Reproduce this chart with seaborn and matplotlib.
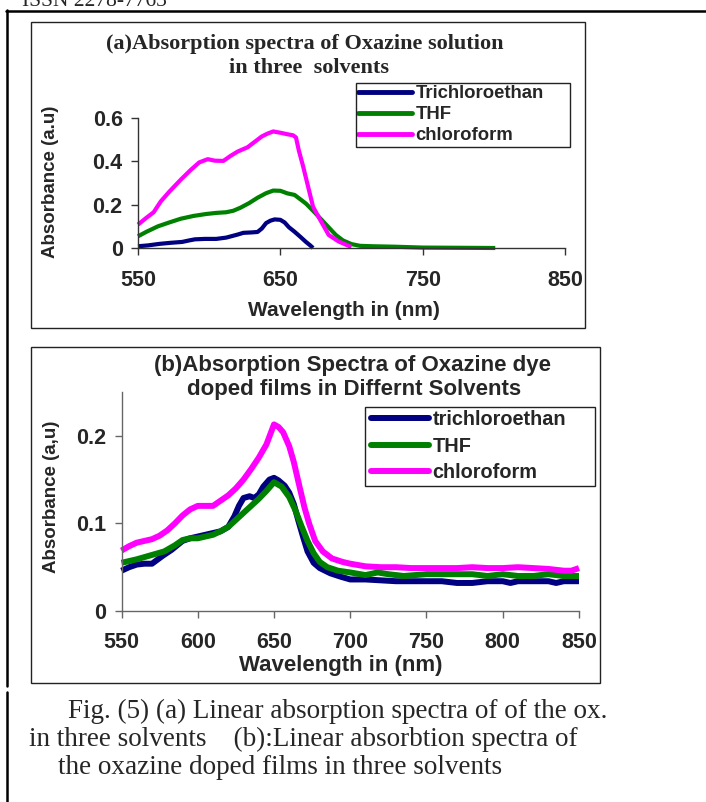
import numpy as np
import pandas as pd
import seaborn as sns
import matplotlib.pyplot as plt
from matplotlib.lines import Line2D
from matplotlib.patches import Rectangle

W, H = 706, 802

# ---- data, panel (a): oxazine solution ----
solvents_a = ['Trichloroethan', 'THF', 'chloroform']
a_tri_wl = [550, 557, 565, 573, 581, 586, 590, 597, 605, 612, 616, 620, 624, 630, 634, 637, 640, 643, 646, 650, 653, 656, 660, 664, 668, 671, 673]
a_tri = [0.008, 0.012, 0.019, 0.024, 0.028, 0.035, 0.040, 0.042, 0.042, 0.048, 0.055, 0.062, 0.070, 0.072, 0.074, 0.090, 0.115, 0.126, 0.132, 0.130, 0.118, 0.096, 0.075, 0.052, 0.028, 0.012, 0.0]
a_thf_wl = [550, 556, 564, 572, 580, 589, 598, 605, 612, 617, 622, 628, 634, 640, 645, 650, 655, 660, 664, 668, 674, 679, 684, 689, 694, 700, 706, 715, 730, 750, 775, 801]
a_thf = [0.054, 0.075, 0.100, 0.118, 0.135, 0.148, 0.157, 0.162, 0.165, 0.172, 0.186, 0.207, 0.232, 0.253, 0.265, 0.264, 0.252, 0.245, 0.225, 0.205, 0.165, 0.130, 0.095, 0.060, 0.035, 0.018, 0.010, 0.008, 0.006, 0.002, 0.001, 0.0]
a_chl_wl = [550, 556, 561, 566, 572, 580, 587, 593, 599, 604, 610, 615, 620, 627, 632, 637, 641, 645, 650, 655, 659, 661, 663, 666, 670, 673, 678, 684, 691, 698, 700]
a_chl = [0.108, 0.140, 0.165, 0.215, 0.260, 0.315, 0.360, 0.395, 0.410, 0.403, 0.402, 0.425, 0.445, 0.465, 0.490, 0.515, 0.528, 0.538, 0.532, 0.525, 0.520, 0.510, 0.450, 0.377, 0.270, 0.190, 0.130, 0.060, 0.030, 0.010, 0.005]
a_xticks = [550, 650, 750, 850]
a_yticks = [0, 0.2, 0.4, 0.6]
a_ylabels = ['0', '0.2', '0.4', '0.6']

# ---- data, panel (b): oxazine doped films ----
solvents_b = ['trichloroethan', 'THF', 'chloroform']
b_tri_wl = [550, 555, 560, 565, 570, 577, 583, 590, 595, 600, 605, 610, 615, 620, 624, 627, 630, 634, 637, 640, 643, 647, 650, 653, 657, 660, 663, 666, 669, 672, 676, 680, 687, 694, 700, 710, 720, 730, 740, 750, 760, 770, 780, 790, 800, 805, 810, 820, 830, 835, 840, 850]
b_tri = [0.046, 0.050, 0.053, 0.054, 0.054, 0.063, 0.070, 0.080, 0.083, 0.085, 0.087, 0.089, 0.091, 0.096, 0.108, 0.120, 0.129, 0.131, 0.129, 0.133, 0.142, 0.150, 0.152, 0.149, 0.143, 0.135, 0.122, 0.103, 0.085, 0.068, 0.055, 0.049, 0.043, 0.039, 0.036, 0.036, 0.035, 0.034, 0.034, 0.034, 0.034, 0.032, 0.032, 0.034, 0.034, 0.032, 0.034, 0.034, 0.034, 0.032, 0.034, 0.034]
b_thf_wl = [550, 560, 570, 578, 585, 590, 595, 600, 605, 610, 615, 620, 625, 630, 635, 640, 645, 650, 655, 660, 664, 668, 672, 676, 680, 685, 692, 700, 710, 718, 725, 735, 750, 765, 780, 790, 800, 810, 820, 830, 840, 850]
b_thf = [0.055, 0.059, 0.064, 0.068, 0.075, 0.081, 0.083, 0.083, 0.085, 0.087, 0.091, 0.096, 0.104, 0.112, 0.120, 0.128, 0.137, 0.147, 0.142, 0.130, 0.115, 0.097, 0.080, 0.066, 0.056, 0.050, 0.046, 0.044, 0.041, 0.044, 0.042, 0.040, 0.042, 0.042, 0.042, 0.040, 0.042, 0.040, 0.040, 0.042, 0.040, 0.040]
b_chl_wl = [550, 555, 560, 565, 570, 575, 580, 585, 590, 595, 600, 605, 610, 615, 620, 625, 630, 635, 640, 645, 650, 653, 656, 660, 663, 667, 670, 673, 677, 682, 688, 695, 700, 710, 720, 730, 740, 750, 760, 770, 780, 790, 800, 810, 820, 830, 840, 845, 850]
b_chl = [0.069, 0.074, 0.078, 0.080, 0.082, 0.086, 0.092, 0.100, 0.109, 0.116, 0.120, 0.120, 0.120, 0.126, 0.132, 0.140, 0.150, 0.162, 0.175, 0.190, 0.213, 0.210, 0.204, 0.188, 0.170, 0.140, 0.118, 0.100, 0.080, 0.068, 0.060, 0.056, 0.054, 0.051, 0.050, 0.050, 0.049, 0.049, 0.049, 0.049, 0.050, 0.049, 0.049, 0.050, 0.049, 0.048, 0.046, 0.046, 0.049]
b_xticks = [550, 600, 650, 700, 750, 800, 850]
b_yticks = [0, 0.1, 0.2]
b_ylabels = ['0', '0.1', '0.2']

colors = ['#000080', '#008000', '#ff00ff']

caption = ['Fig. (5) (a) Linear absorption spectra of of the ox.',
           'in three solvents    (b):Linear absorbtion spectra of',
           'the oxazine doped films in three solvents']


def long_df(names, wls, vals):
    parts = [pd.DataFrame({'wl': w, 'abs': v, 'solvent': n}) for n, w, v in zip(names, wls, vals)]
    return pd.concat(parts, ignore_index=True)


df_a = long_df(solvents_a, [a_tri_wl, a_thf_wl, a_chl_wl], [a_tri, a_thf, a_chl])
df_b = long_df(solvents_b, [b_tri_wl, b_thf_wl, b_chl_wl], [b_tri, b_thf, b_chl])

sns.set_theme(style='white')
plt.rcParams['font.family'] = ['Liberation Sans', 'DejaVu Sans']

fig = plt.figure(figsize=(W / 100, H / 100), dpi=100)


def fx(x):
    return x / W


def fy(y):
    return 1 - y / H


def frame(x0, y0, x1, y1, lw=1.0, color='#222222'):
    fig.add_artist(Rectangle((fx(x0), fy(y1)), fx(x1) - fx(x0), fy(y0) - fy(y1),
                             transform=fig.transFigure, fill=False, lw=lw, edgecolor=color))


def hline(x0, x1, y, lw=1.8):
    fig.add_artist(Line2D([fx(x0), fx(x1)], [fy(y), fy(y)], transform=fig.transFigure, lw=lw, color='black'))


def vline(x, y0, y1, lw=1.8):
    fig.add_artist(Line2D([fx(x), fx(x)], [fy(y0), fy(y1)], transform=fig.transFigure, lw=lw, color='black'))


# page decorations (running header is cut by the page edge, as in the scan)
fig.text(fx(22), fy(6.5), 'ISSN 2278-7763', family='Liberation Serif', fontsize=15.5, va='baseline', ha='left')
hline(6, 706, 11)
vline(7, 10, 686)
vline(7, 692, 802)

# panel frames
frame(31, 22, 585, 328)
frame(31, 347, 600, 683)


def draw_panel(ax, df, names, lw, xticks, yticks, ylabels, ylim, spine_color):
    sns.lineplot(data=df, x='wl', y='abs', hue='solvent', hue_order=names, palette=colors,
                 linewidth=lw, estimator=None, sort=False, legend=False, ax=ax)
    for ln in ax.lines:
        ln.set_clip_on(False)
        ln.set_solid_capstyle('butt')
    ax.set_xlim(550, 850)
    ax.set_ylim(*ylim)
    ax.set_xlabel('')
    ax.set_ylabel('')
    ax.set_xticks(xticks)
    ax.set_xticklabels([str(t) for t in xticks], fontsize=15.5, fontweight='bold')
    ax.set_yticks(yticks)
    ax.set_yticklabels(ylabels, fontsize=15.5, fontweight='bold')
    sns.despine(ax=ax)
    for s in ['left', 'bottom']:
        ax.spines[s].set_color(spine_color)
        ax.spines[s].set_linewidth(1.0)
    ax.tick_params(bottom=True, left=True, direction='out', length=5, width=1.0, color=spine_color)
    ax.set_facecolor('none')


def draw_legend(ax, names, lw, x, y, fs, spacing):
    handles = [Line2D([], [], color=c, lw=lw) for c in colors]
    ax.legend(handles, names, loc='upper left', bbox_to_anchor=(fx(x), fy(y)),
              bbox_transform=fig.transFigure, frameon=False, borderpad=0, borderaxespad=0,
              handlelength=2.9, handletextpad=0.2, labelspacing=spacing,
              prop={'weight': 'bold', 'size': fs})


# ---- panel (a) ----
ax_a = fig.add_axes([fx(138), fy(248), (565 - 138) / W, (248 - 118) / H])
draw_panel(ax_a, df_a, solvents_a, 3.0, a_xticks, a_yticks, a_ylabels, (0, 0.6), '#333333')
ax_a.tick_params(axis='x', pad=11)
ax_a.tick_params(axis='y', pad=6)
draw_legend(ax_a, solvents_a, 3.5, 358, 85, 13.3, 0.22)
frame(356, 83, 570, 147)
fig.text(fx(305), fy(44), '(a)Absorption spectra of Oxazine solution', family='Liberation Serif',
         fontweight='bold', fontsize=16, ha='center', va='center')
fig.text(fx(309), fy(68), 'in three  solvents', family='Liberation Serif',
         fontweight='bold', fontsize=16, ha='center', va='center')
fig.text(fx(51), fy(182), 'Absorbance (a.u)', fontweight='bold', fontsize=13.5,
         rotation=90, ha='center', va='center')
fig.text(fx(344), fy(311), 'Wavelength in (nm)', fontweight='bold', fontsize=15,
         ha='center', va='center')

# ---- panel (b) ----
ax_b = fig.add_axes([fx(121.5), fy(611), (579 - 121.5) / W, (611 - 392) / H])
draw_panel(ax_b, df_b, solvents_b, 4.3, b_xticks, b_yticks, b_ylabels, (0, 0.25), '#666666')
ax_b.tick_params(axis='x', pad=10)
ax_b.tick_params(axis='y', pad=6)
draw_legend(ax_b, solvents_b, 4.3, 371, 410, 14.3, 0.38)
frame(365, 407, 595, 486)
fig.text(fx(352), fy(366), '(b)Absorption Spectra of Oxazine dye', fontweight='bold',
         fontsize=16, ha='center', va='center')
fig.text(fx(354), fy(390), 'doped films in Differnt Solvents', fontweight='bold',
         fontsize=16, ha='center', va='center')
fig.text(fx(52), fy(497), 'Absorbance (a,u)', fontweight='bold', fontsize=13.5,
         rotation=90, ha='center', va='center')
fig.text(fx(341), fy(666), 'Wavelength in (nm)', fontweight='bold', fontsize=16,
         ha='center', va='center')

# ---- caption ----
for (x, y), line in zip([(68, 711), (29, 739), (58, 767)], caption):
    fig.text(fx(x), fy(y), line, family='Liberation Serif', fontsize=19.5, ha='left', va='center')

fig.savefig('out.png', dpi=100)
